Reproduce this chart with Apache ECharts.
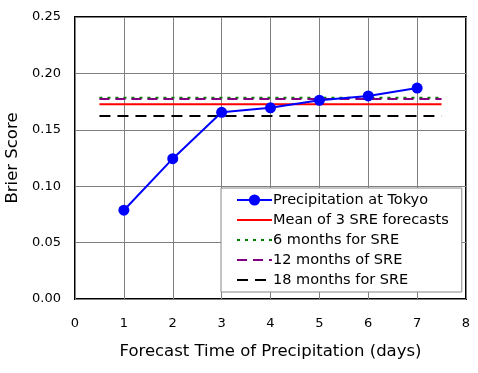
<!DOCTYPE html>
<html><head><meta charset="utf-8">
<script src="https://cdn.jsdelivr.net/npm/echarts@6/dist/echarts.min.js"></script>
<style>html,body{margin:0;padding:0;background:#fff}#c{width:478px;height:373px}</style>
</head><body><div id="c"></div>
<script>
const days = [1, 2, 3, 4, 5, 6, 7];
const tokyo = [0.0787, 0.1244, 0.1655, 0.1695, 0.1762, 0.1800, 0.1870];
const refSpan = [0.5, 7.5];
const meanSRE = 0.1726;
const sre6 = 0.1785;
const sre12 = 0.1772;
const sre18 = 0.1622;
const names = ['Precipitation at Tokyo', 'Mean of 3 SRE forecasts', '6 months for SRE', '12 months of SRE', '18 months for SRE'];

const font = '"DejaVu Sans", sans-serif';
const hline = v => refSpan.map(x => [x, v]);
const chart = echarts.init(document.getElementById('c'));
chart.setOption({
  animation: false,
  textStyle: { fontFamily: font },
  grid: { left: 75, right: 12, top: 17, bottom: 74, outerBoundsMode: 'none', containLabel: false, show: true, borderColor: '#000', borderWidth: 2, backgroundColor: '#fff' },
  legend: {
    orient: 'vertical', left: 221, top: 188,
    padding: [4, 13, 4, 15], itemGap: 4, itemWidth: 35, itemHeight: 14,
    backgroundColor: '#fff', borderColor: '#888', borderWidth: 1,
    textStyle: { fontFamily: font, fontSize: 14.5, lineHeight: 16, color: '#000', padding: [0, 0, 0, -4] },
    data: names.map((n, i) => i === 0 ? { name: n } : { name: n, itemStyle: { opacity: 0 } })
  },
  xAxis: {
    type: 'value', min: 0, max: 8, interval: 1,
    name: 'Forecast Time of Precipitation (days)', nameLocation: 'middle', nameGap: 44,
    nameTextStyle: { fontFamily: font, fontSize: 16.5, color: '#000' },
    axisLine: { show: false }, axisTick: { show: false },
    axisLabel: { fontFamily: font, fontSize: 13, color: '#000', margin: 18 },
    splitLine: { show: true, lineStyle: { color: '#808080', width: 1 } }
  },
  yAxis: {
    type: 'value', min: 0, max: 0.25, interval: 0.05,
    name: 'Brier Score', nameLocation: 'middle', nameGap: 52,
    nameTextStyle: { fontFamily: font, fontSize: 16.5, color: '#000' },
    axisLine: { show: false }, axisTick: { show: false },
    axisLabel: { fontFamily: font, fontSize: 13, color: '#000', margin: 14, formatter: v => v.toFixed(2) },
    splitLine: { show: true, lineStyle: { color: '#808080', width: 1 } }
  },
  series: [
    { name: names[1], type: 'line', data: hline(meanSRE), symbol: 'none', lineStyle: { color: '#ff0000', width: 2 }, itemStyle: { color: '#ff0000' }, z: 2 },
    { name: names[2], type: 'line', data: hline(sre6), symbol: 'none', lineStyle: { color: '#008000', width: 2, type: [3, 5] }, itemStyle: { color: '#008000' }, z: 2 },
    { name: names[3], type: 'line', data: hline(sre12), symbol: 'none', lineStyle: { color: '#800080', width: 2, type: [10, 6] }, itemStyle: { color: '#800080' }, z: 2 },
    { name: names[4], type: 'line', data: hline(sre18), symbol: 'none', lineStyle: { color: '#000000', width: 2, type: [11, 7] }, itemStyle: { color: '#000' }, z: 2 },
    { name: names[0], type: 'line', data: days.map((d, i) => [d, tokyo[i]]), symbol: 'circle', symbolSize: 11, lineStyle: { color: '#0000ff', width: 2 }, itemStyle: { color: '#0000ff' }, z: 3 }
  ]
});
</script></body></html>
